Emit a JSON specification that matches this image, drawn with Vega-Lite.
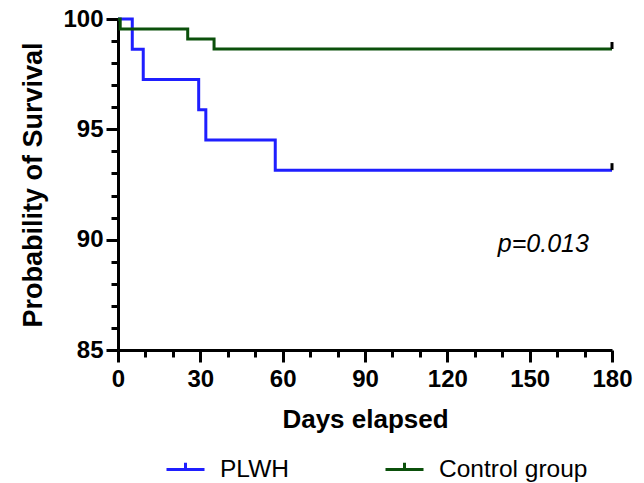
{
  "$schema": "https://vega.github.io/schema/vega-lite/v6.json",
  "width": 494,
  "height": 331,
  "autosize": "none",
  "padding": {"left": 118, "top": 19, "right": 32, "bottom": 133},
  "background": "white",
  "config": {"view": {"stroke": null}, "font": "Liberation Sans"},
  "layer": [
    {
      "data": {"values": [
        {"group": "PLWH", "day": 0, "survival": 100},
        {"group": "PLWH", "day": 5.2, "survival": 98.63},
        {"group": "PLWH", "day": 9.2, "survival": 97.26},
        {"group": "PLWH", "day": 29.4, "survival": 95.89},
        {"group": "PLWH", "day": 32, "survival": 94.52},
        {"group": "PLWH", "day": 57.3, "survival": 93.15},
        {"group": "PLWH", "day": 180, "survival": 93.15},
        {"group": "Control group", "day": 0, "survival": 100},
        {"group": "Control group", "day": 0.8, "survival": 99.55},
        {"group": "Control group", "day": 25.4, "survival": 99.09},
        {"group": "Control group", "day": 35, "survival": 98.64},
        {"group": "Control group", "day": 180, "survival": 98.64}
      ]},
      "mark": {"type": "line", "interpolate": "step-after", "strokeWidth": 3},
      "encoding": {
        "x": {
          "field": "day", "type": "quantitative",
          "scale": {"domain": [0, 180], "nice": false, "zero": false},
          "axis": {
            "values": [0, 10, 20, 30, 40, 50, 60, 70, 80, 90, 100, 110, 120, 130, 140, 150, 160, 170, 180],
            "tickCount": 100,
            "format": "d",
            "labelExpr": "datum.value % 30 === 0 ? datum.label : ''",
            "tickSize": {"condition": {"test": "datum.value % 30 === 0", "value": 12}, "value": 7},
            "tickWidth": 3, "tickColor": "black",
            "domainWidth": 3, "domainColor": "black",
            "labelFont": "Liberation Sans", "labelFontSize": 24, "labelFontWeight": "bold", "labelColor": "black",
            "labelPadding": 5, "labelFlush": false, "labelOverlap": false,
            "grid": false,
            "title": "Days elapsed", "titleFont": "Liberation Sans", "titleFontSize": 26, "titleFontWeight": "bold", "titleColor": "black",
            "titlePadding": 15
          }
        },
        "y": {
          "field": "survival", "type": "quantitative",
          "scale": {"domain": [85, 100], "nice": false, "zero": false},
          "axis": {
            "values": [85, 86, 87, 88, 89, 90, 91, 92, 93, 94, 95, 96, 97, 98, 99, 100],
            "tickCount": 100,
            "format": "d",
            "labelExpr": "datum.value % 5 === 0 ? datum.label : ''",
            "tickSize": {"condition": {"test": "datum.value % 5 === 0", "value": 12}, "value": 7},
            "tickWidth": 3, "tickColor": "black",
            "domainWidth": 3, "domainColor": "black",
            "labelFont": "Liberation Sans", "labelFontSize": 24, "labelFontWeight": "bold", "labelColor": "black",
            "labelPadding": 3, "labelOverlap": false, "labelFlush": false,
            "grid": false,
            "title": "Probability of Survival", "titleFont": "Liberation Sans", "titleFontSize": 27, "titleFontWeight": "bold", "titleColor": "black",
            "titleX": -85, "titleBaseline": "middle"
          }
        },
        "color": {
          "field": "group", "type": "nominal",
          "scale": {"domain": ["PLWH", "Control group"], "range": ["#1F1FFF", "#0B500B"]},
          "legend": {
            "orient": "none", "legendX": 47, "legendY": 430,
            "direction": "horizontal", "title": null,
            "symbolType": "M-1,0H1M0,0V-0.35", "symbolSize": 1444, "symbolStrokeWidth": 3,
            "labelFont": "Liberation Sans", "labelFontSize": 24.5, "labelColor": "black",
            "labelOffset": 14, "columnPadding": 90, "padding": 0
          }
        }
      }
    },
    {
      "data": {"values": [
        {"group": "PLWH", "day": 180, "survival": 93.15},
        {"group": "Control group", "day": 180, "survival": 98.64}
      ]},
      "mark": {"type": "point", "shape": "M0,0V-1", "size": 196, "color": "black", "filled": false, "strokeWidth": 3, "opacity": 1},
      "encoding": {
        "x": {"field": "day", "type": "quantitative"},
        "y": {"field": "survival", "type": "quantitative"}
      }
    },
    {
      "data": {"values": [{"label": "p=0.013", "day": 155, "survival": 89.45}]},
      "mark": {"type": "text", "font": "Liberation Sans", "fontStyle": "italic", "fontSize": 25, "align": "center", "baseline": "alphabetic", "color": "black"},
      "encoding": {
        "x": {"field": "day", "type": "quantitative"},
        "y": {"field": "survival", "type": "quantitative"},
        "text": {"field": "label"}
      }
    }
  ]
}
